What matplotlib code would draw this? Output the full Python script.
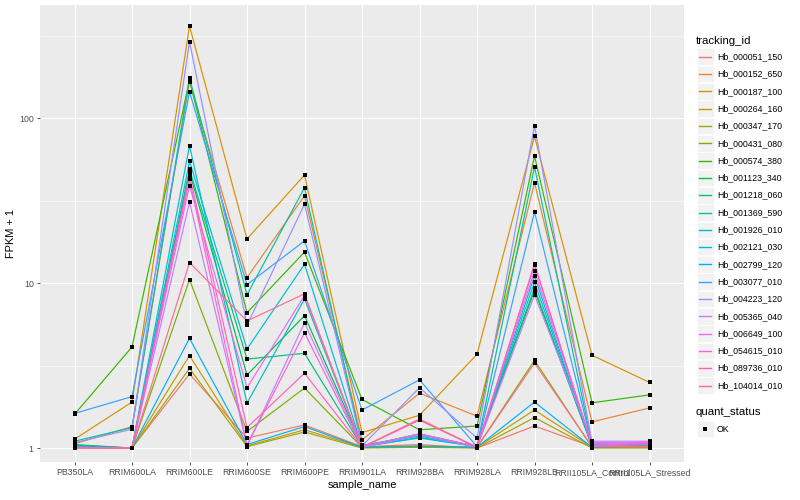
import matplotlib
matplotlib.use("Agg")
import matplotlib.pyplot as plt
from matplotlib.patches import Rectangle
from matplotlib.lines import Line2D
import numpy as np

plt.rcParams['font.family'] = ['Liberation Sans', 'DejaVu Sans']

samples = ["PB350LA", "RRIM600LA", "RRIM600LE", "RRIM600SE", "RRIM600PE",
           "RRIM901LA", "RRIM928BA", "RRIM928LA", "RRIM928LB",
           "RRII105LA_Control", "RRII105LA_Stressed"]

tracking_ids = ["Hb_000051_150", "Hb_000152_650", "Hb_000187_100", "Hb_000264_160",
                "Hb_000347_170", "Hb_000431_080", "Hb_000574_380", "Hb_001123_340",
                "Hb_001218_060", "Hb_001369_590", "Hb_001926_010", "Hb_002121_030",
                "Hb_002799_120", "Hb_003077_010", "Hb_004223_120", "Hb_005365_040",
                "Hb_006649_100", "Hb_054615_010", "Hb_089736_010", "Hb_104014_010"]

# FPKM + 1 per sample, one list per gene
hb_000051_150 = [1.02, 1.0, 2.81, 1.15, 1.38, 1.02, 1.05, 1.0, 1.36, 1.02, 1.02]
hb_000152_650 = [1.06, 1.35, 166, 10.8, 33.8, 1.12, 2.15, 1.56, 40.6, 1.44, 1.75]
hb_000187_100 = [1.13, 1.9, 361, 18.5, 45.1, 1.24, 1.58, 3.7, 77.4, 3.65, 2.5]
hb_000264_160 = [1.03, 1.0, 3.63, 1.03, 1.29, 1.01, 1.02, 1.01, 1.70, 1.01, 1.01]
hb_000347_170 = [1.01, 1.0, 3.04, 1.02, 1.25, 1.0, 1.01, 1.0, 1.53, 1.0, 1.0]
hb_000431_080 = [1.01, 1.0, 10.5, 1.26, 2.31, 1.01, 1.02, 1.01, 3.4, 1.01, 1.02]
hb_000574_380 = [1.6, 4.1, 170, 6.6, 15.4, 1.97, 1.29, 1.36, 58.9, 1.88, 2.1]
hb_001123_340 = [1.05, 1.0, 47, 2.77, 6.34, 1.03, 1.2, 1.02, 9.0, 1.03, 1.04]
hb_001218_060 = [1.04, 1.0, 48.9, 3.46, 3.75, 1.02, 1.22, 1.02, 9.3, 1.02, 1.03]
hb_001369_590 = [1.1, 1.33, 175, 8.49, 37.8, 1.04, 1.18, 1.03, 50.5, 1.05, 1.06]
hb_001926_010 = [1.03, 1.0, 68, 1.87, 8.0, 1.02, 1.15, 1.02, 10.1, 1.03, 1.05]
hb_002121_030 = [1.02, 1.0, 54.7, 3.98, 13.0, 1.02, 1.16, 1.02, 11.0, 1.02, 1.04]
hb_002799_120 = [1.02, 1.0, 4.62, 1.05, 1.35, 1.01, 1.03, 1.01, 1.9, 1.01, 1.03]
hb_003077_010 = [1.62, 2.05, 144, 9.77, 18.0, 1.70, 2.59, 1.02, 26.9, 1.05, 1.05]
hb_004223_120 = [1.08, 1.3, 290, 5.54, 30.1, 1.03, 2.32, 1.15, 89.8, 1.08, 1.08]
hb_005365_040 = [1.01, 1.0, 31, 1.03, 5.74, 1.01, 1.2, 1.01, 8.45, 1.1, 1.1]
hb_006649_100 = [1.01, 1.0, 38.9, 2.32, 8.4, 1.02, 1.22, 1.02, 11.8, 1.06, 1.09]
hb_054615_010 = [1.0, 1.0, 42.4, 1.04, 5.0, 1.01, 1.48, 1.01, 12.8, 1.04, 1.07]
hb_089736_010 = [1.0, 1.0, 45, 1.33, 2.84, 1.01, 1.48, 1.01, 13.1, 1.03, 1.05]
hb_104014_010 = [1.0, 1.0, 13.3, 5.89, 8.6, 1.01, 1.5, 1.01, 3.27, 1.02, 1.02]

series = [hb_000051_150, hb_000152_650, hb_000187_100, hb_000264_160, hb_000347_170,
          hb_000431_080, hb_000574_380, hb_001123_340, hb_001218_060, hb_001369_590,
          hb_001926_010, hb_002121_030, hb_002799_120, hb_003077_010, hb_004223_120,
          hb_005365_040, hb_006649_100, hb_054615_010, hb_089736_010, hb_104014_010]

colors = ["#F8766D", "#EA8331", "#D89000", "#C09B00", "#A3A500", "#7CAE00", "#39B600",
          "#00BB4E", "#00BF7D", "#00C1A3", "#00BFC4", "#00BAE0", "#00B0F6", "#35A2FF",
          "#9590FF", "#C77CFF", "#E76BF3", "#FA62DB", "#FF62BC", "#FF6C91"]

W, H = 800, 500
fig = plt.figure(figsize=(8, 5), dpi=100)
ax = fig.add_axes([40 / W, 1 - 462 / H, 644 / W, 457 / H])
ax.set_facecolor("#EBEBEB")

x = np.arange(len(samples))
for vals, c in zip(series, colors):
    ax.plot(x, vals, color=c, lw=0.85, zorder=3)
for vals in series:
    ax.plot(x, vals, ls='none', marker='s', ms=2.2, mew=0, color='black', zorder=4)

ax.set_yscale('log')
ax.set_ylim(0.823, 484)
ax.set_xlim(-0.6, 10.6)
ax.set_yticks([1, 10, 100])
ax.set_yticklabels(["1", "10", "100"])
ax.set_yticks([10 ** 0.5, 10 ** 1.5, 10 ** 2.5], minor=True)
ax.yaxis.set_minor_formatter(matplotlib.ticker.NullFormatter())
ax.set_xticks(x)
ax.set_xticklabels(samples)
ax.grid(True, which='major', color='white', lw=0.8)
ax.grid(True, which='minor', axis='y', color='white', lw=0.4)
ax.set_axisbelow(True)
for s in ax.spines.values():
    s.set_visible(False)
ax.tick_params(axis='both', which='major', length=2.5, width=0.6, color='#333333',
               labelsize=6.3, labelcolor='#4D4D4D', pad=2)
ax.tick_params(axis='y', which='minor', length=0)
ax.set_xlabel("sample_name", fontsize=7.9, labelpad=2)
ax.set_ylabel("FPKM + 1", fontsize=7.9, labelpad=2)


def fx(px):
    return px / W


def fy(py):
    return 1 - py / H


# tracking_id legend
fig.text(fx(696), fy(41), "tracking_id", fontsize=8.2, va='center', ha='left')
for i, (tid, c) in enumerate(zip(tracking_ids, colors)):
    yc = 56.8 + 17.3 * i
    fig.add_artist(Rectangle((fx(697), fy(yc + 8.3)), 16.6 / W, 16.6 / H,
                             transform=fig.transFigure, facecolor='#F2F2F2',
                             edgecolor='white', lw=0.5, zorder=1))
    fig.add_artist(Line2D([fx(699), fx(711)], [fy(yc), fy(yc)], color=c, lw=1.0,
                          transform=fig.transFigure, zorder=2))
    fig.text(fx(717), fy(yc), tid, fontsize=6.3, va='center', ha='left')

# quant_status legend
fig.text(fx(696), fy(412), "quant_status", fontsize=8.2, va='center', ha='left')
fig.add_artist(Rectangle((fx(697), fy(429 + 8.3)), 16.6 / W, 16.6 / H,
                         transform=fig.transFigure, facecolor='#F2F2F2',
                         edgecolor='white', lw=0.5, zorder=1))
fig.add_artist(Line2D([fx(705)], [fy(429)], marker='s', ms=2.2, mew=0, color='black',
                      transform=fig.transFigure, zorder=2))
fig.text(fx(717), fy(429), "OK", fontsize=6.3, va='center', ha='left')

fig.savefig("out.png", dpi=100)
